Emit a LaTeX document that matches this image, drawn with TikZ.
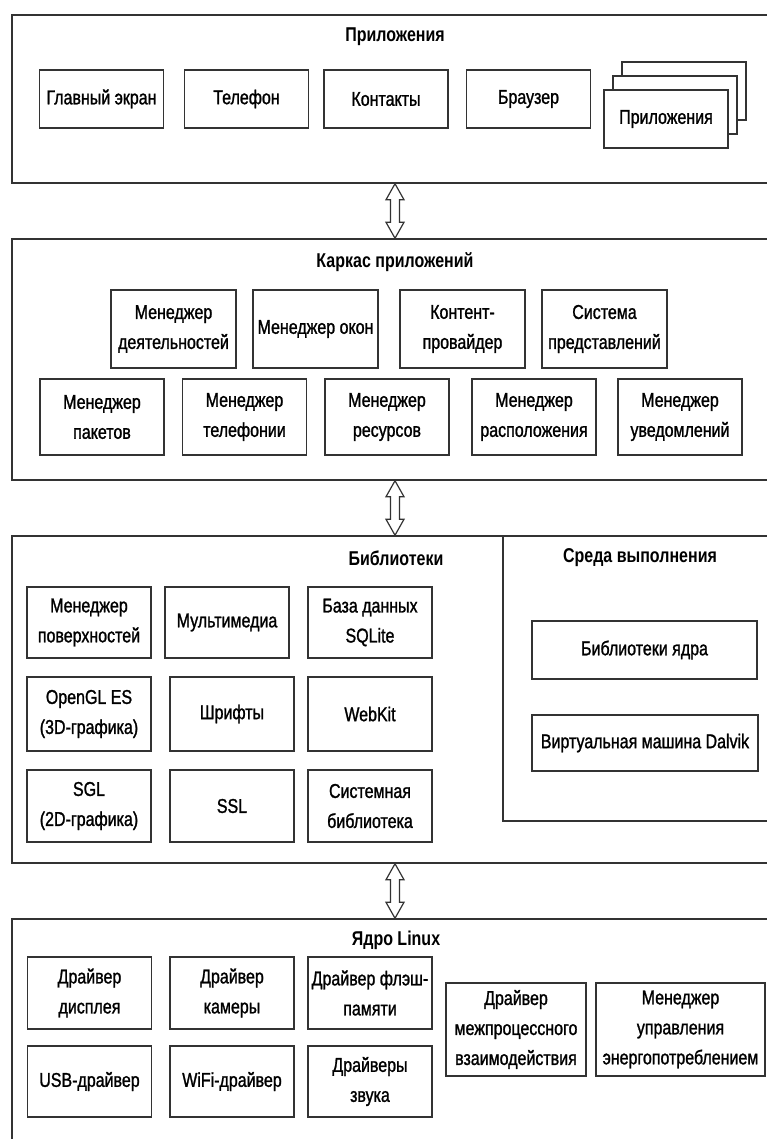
\documentclass[tikz,border=0pt]{standalone}
\usepackage{fontspec}
\setmainfont{Liberation Sans}[FakeStretch=0.8, UprightFeatures={FakeBold=1.2}]
\usetikzlibrary{shapes,positioning,calc,shadows}

\newcommand{\layerlink}[2]{%
  \draw [link] (#1) -- ++(9,16) -- ++(-4.5,0) -- ($(#2)+(4.5,-16)$) -- ++(4.5,0)
    -- (#2) -- ++(-9,-16) -- ++(4.5,0) -- ($(#1)+(-4.5,16)$) -- ++(-4.5,0) -- cycle;}

\begin{document}
\begin{tikzpicture}[
    x=1pt, y=-1pt,
    every node/.style={font=\fontsize{20}{30}\selectfont},
    layer/.style={rectangle, draw=black!80, line width=1.5pt, minimum width=766pt, inner sep=0pt},
    title/.style={font=\bfseries\fontsize{20}{30}\selectfont},
    block/.style={rectangle, draw=black!80, fill=white, line width=1.3pt, align=center, text centered, minimum width=124pt, minimum height=72pt, inner sep=2pt},
    link/.style={draw=black!80, fill=white, line width=1.2pt, line join=miter}
]
    \useasboundingbox (0,0) rectangle (767,1139);
    \clip (0,0) rectangle (767,1139);

    % Layers
    \node [layer, minimum height=168pt] (apps) at (395,99) {};
    \node [layer, minimum height=241pt] (fw) at (395,359.5) {};
    \node [layer, minimum height=327pt] (libs) at (395,699.5) {};
    \node [layer, minimum height=261pt] (kernel) at (395,1049.5) {};
    \node [layer, minimum width=287pt, minimum height=285pt] (runtime) at (646.5,678.5) {};

    \node [title] (appstitle) at (395,37) {Приложения};
    \node [title] (fwtitle) at (395,262) {Каркас приложений};
    \node [title] (libstitle) at (396,558) {Библиотеки};
    \node [title] (runtimetitle) at (640,558) {Среда выполнения};
    \node [title] (kerneltitle) at (396,940) {Ядро Linux};

    % Nodes
    \node [block, minimum height=58pt] (home) at (101.5,99) {Главный экран};
    \node [block, minimum height=58pt] (phone) at (246.5,99) {Телефон};
    \node [block, minimum height=58pt] (contacts) at (386,99) {Контакты};
    \node [block, minimum height=58pt] (browser) at (528.5,99) {Браузер};
    \node [block, minimum height=58pt, double copy shadow={shadow xshift=9pt, shadow yshift=14pt, draw=black!80, fill=white, line width=1.3pt}] (moreapps) at (666,119) {Приложения};

    \node [block, minimum width=125pt, minimum height=78pt] (actmgr) at (173.5,329) {Менеджер\\деятельностей};
    \node [block, minimum width=125pt, minimum height=78pt] (winmgr) at (315.5,329) {Менеджер окон};
    \node [block, minimum width=125pt, minimum height=78pt] (content) at (462.5,329) {Контент-\\провайдер};
    \node [block, minimum width=125pt, minimum height=78pt] (views) at (604.5,329) {Система\\представлений};
    \node [block, minimum height=76pt] (pkgmgr) at (102,417) {Менеджер\\пакетов};
    \node [block, minimum height=76pt] (telmgr) at (244.5,417) {Менеджер\\телефонии};
    \node [block, minimum height=76pt] (resmgr) at (387,417) {Менеджер\\ресурсов};
    \node [block, minimum height=76pt] (locmgr) at (534,417) {Менеджер\\расположения};
    \node [block, minimum height=76pt] (notifmgr) at (680,417) {Менеджер\\уведомлений};

    \node [block, minimum height=71pt] (surfmgr) at (89,622.5) {Менеджер\\поверхностей};
    \node [block, minimum height=71pt] (media) at (227,622.5) {Мультимедиа};
    \node [block, minimum height=71pt] (sqlite) at (370,622.5) {База данных\\SQLite};
    \node [block, minimum height=74pt] (opengl) at (89,714) {OpenGL ES\\(3D-графика)};
    \node [block, minimum height=74pt] (fonts) at (232,714) {Шрифты};
    \node [block, minimum height=74pt] (webkit) at (370,714) {WebKit};
    \node [block] (sgl) at (89,806) {SGL\\(2D-графика)};
    \node [block] (ssl) at (232,806) {SSL};
    \node [block] (libc) at (370,806) {Системная\\библиотека};
    \node [block, minimum width=225pt, minimum height=58pt] (corelibs) at (644.5,650) {Библиотеки ядра};
    \node [block, minimum width=226pt, minimum height=56pt] (dalvik) at (645,743) {Виртуальная машина Dalvik};

    \node [block] (display) at (89.5,993) {Драйвер\\дисплея};
    \node [block] (camera) at (232,993) {Драйвер\\камеры};
    \node [block] (flash) at (370,993) {Драйвер флэш-\\памяти};
    \node [block, minimum height=71pt] (usb) at (89.5,1081.5) {USB-драйвер};
    \node [block, minimum height=71pt] (wifi) at (232,1081.5) {WiFi-драйвер};
    \node [block, minimum height=71pt] (audio) at (370,1081.5) {Драйверы\\звука};
    \node [block, minimum width=140pt, minimum height=93pt] (ipc) at (516,1029.5) {Драйвер\\межпроцессного\\взаимодействия};
    \node [block, minimum width=169pt, minimum height=93pt] (power) at (680.5,1029.5) {Менеджер\\управления\\энергопотреблением};

    % Connections
    \layerlink{apps.south}{fw.north}
    \layerlink{fw.south}{libs.north}
    \layerlink{libs.south}{kernel.north}

\end{tikzpicture}
\end{document}
